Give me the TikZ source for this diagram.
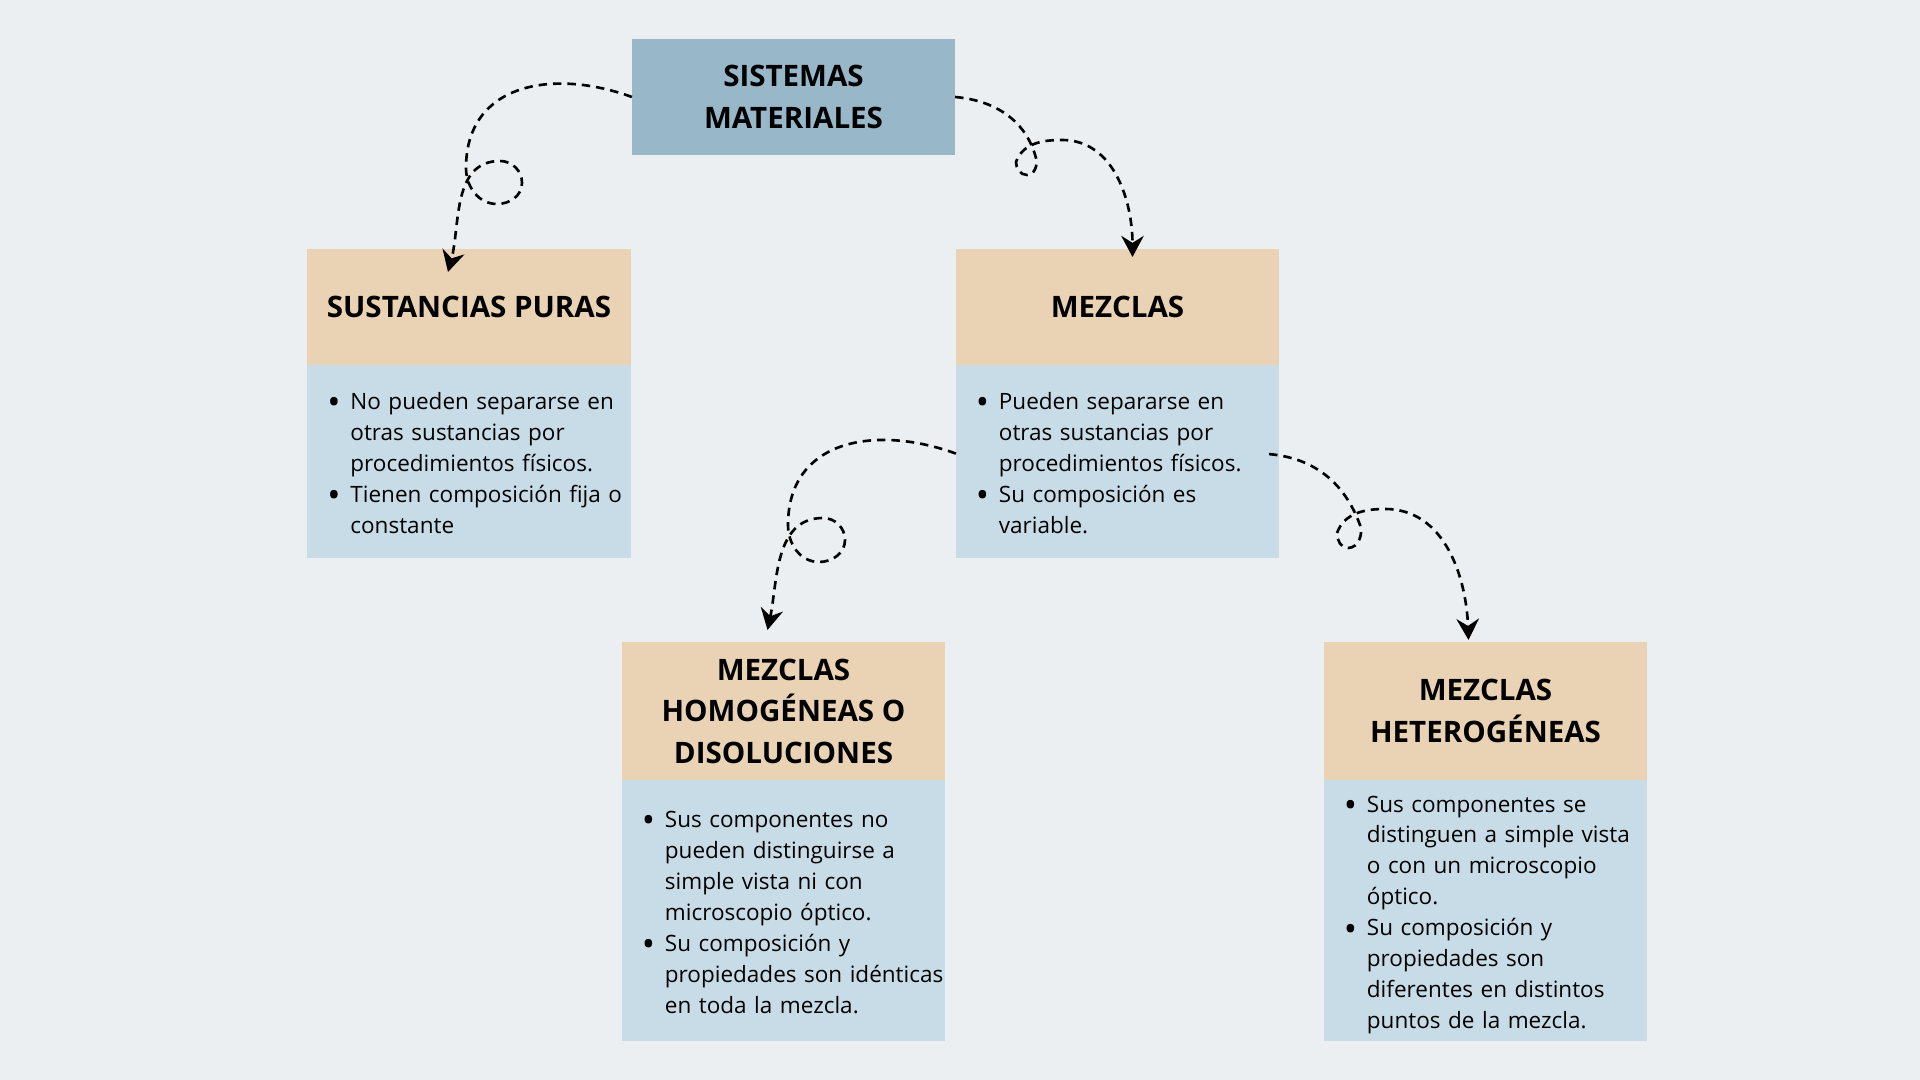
\documentclass[tikz,border=0pt]{standalone}
\usepackage{fontspec}
\setmainfont{Open Sans}
\usetikzlibrary{positioning,arrows.meta,calc}

\definecolor{bgcol}{HTML}{EBEFF2}
\definecolor{topcol}{HTML}{98B8CA}
\definecolor{headcol}{HTML}{E9D3B4}
\definecolor{bodycol}{HTML}{C8DCE7}

\newcommand{\bl}{\makebox[0.23cm][l]{\raisebox{-1.5pt}[0pt][0pt]{\fontsize{10}{10}\selectfont\textbullet}}}
\newcommand{\blist}[1]{\noindent\raisebox{-1pt}[\height][\depth]{\begin{tabular}{@{}l@{}l@{}}#1\end{tabular}}}

\begin{document}
\begin{tikzpicture}[x=0.01cm,y=0.01cm,
  head/.style={fill=headcol,minimum width=3.23cm,minimum height=1.16cm,inner sep=0pt,outer sep=0pt,
    align=center,font=\fontsize{8.4}{11.8}\selectfont\bfseries},
  body/.style={fill=bodycol,text width=2.83cm,inner xsep=0.2cm,inner ysep=0pt,outer sep=0pt,
    minimum height=1.93cm,align=left,font=\fontsize{6.4}{8.8}\selectfont},
  link/.style={line width=0.75pt,dash pattern=on 2.4pt off 1.7pt,
    -{Stealth[length=6pt,width=6.4pt,inset=2pt]}}]
% background
\fill[bgcol] (0,0) rectangle (1920,-1080);
% boxes
\node[head,fill=topcol] (top) at (793.5,-97) {SISTEMAS\\MATERIALES};
\node[head] (sp) at (469,-307) {SUSTANCIAS PURAS};
\node[body,below=0pt of sp] (spb) {\blist{%
  \bl & No pueden separarse en\\ & otras sustancias por\\ & procedimientos físicos.\\
  \bl & Tienen composición fija o\\ & constante}};
\node[head] (mez) at (1117.5,-307) {MEZCLAS};
\node[body,below=0pt of mez] (mezb) {\blist{%
  \bl & Pueden separarse en\\ & otras sustancias por\\ & procedimientos físicos.\\
  \bl & Su composición es\\ & variable.}};
\node[head,minimum height=1.38cm] (hom) at (783.5,-711) {MEZCLAS\\HOMOGÉNEAS O\\DISOLUCIONES};
\node[body,minimum height=2.61cm,below=0pt of hom] (homb) {\blist{%
  \bl & Sus componentes no\\ & pueden distinguirse a\\ & simple vista ni con\\ & microscopio óptico.\\
  \bl & Su composición y\\ & propiedades son idénticas\\ & en toda la mezcla.}};
\node[head,minimum height=1.38cm] (het) at (1485.5,-711) {MEZCLAS\\HETEROGÉNEAS};
\node[body,minimum height=2.61cm,below=0pt of het] (hetb) {\blist{%
  \bl & Sus componentes se\\ & distinguen a simple vista\\ & o con un microscopio\\ & óptico.\\
  \bl & Su composición y\\ & propiedades son\\ & diferentes en distintos\\ & puntos de la mezcla.}};
% looped arrows
\draw[link] (top.west) to[out=160,in=90,looseness=1.2] (466,-168) to[out=-90,in=180] (497,-204)
  to[out=0,in=-90] (522,-183) to[out=90,in=0] (500,-161) to[out=180,in=75] ($(sp.north)+(-21,-23)$);
\draw[link] (top.east) to[out=-5,in=105] (1036,-158) to[out=-75,in=0] (1027,-175)
  to[out=180,in=-90] (1016,-162) to[out=70,in=180] (1062,-140) to[out=0,in=90] ($(mez.north)+(15,-8)$);
\draw[link] ($(mezb.west)+(0,8)$) to[out=160,in=90,looseness=1.2] (788,-525) to[out=-90,in=180] (819,-562)
  to[out=0,in=-90] (845,-540) to[out=90,in=0] (823,-518) to[out=180,in=78] ($(hom.north)+(-16,12)$);
\draw[link] ($(mezb.east)+(-10,7.5)$) to[out=-5,in=110] (1360,-525) to[out=-70,in=0] (1348,-548)
  to[out=180,in=-90] (1337,-533) to[out=70,in=180] (1385,-509) to[out=0,in=92] ($(het.north)+(-17,2)$);
\end{tikzpicture}
\end{document}
